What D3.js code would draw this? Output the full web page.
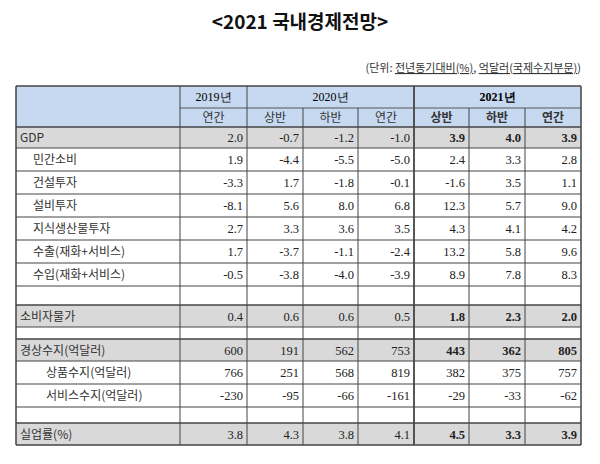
<!DOCTYPE html>
<html><head><meta charset="utf-8">
<script src="https://cdn.jsdelivr.net/npm/d3@7"></script>
<style>body{margin:0;background:#fff}</style>
</head><body>
<svg id="chart" width="600" height="464"></svg>
<script>
var years = [["", 0, 1], ["2019년", 1, 1], ["2020년", 2, 3], ["2021년", 5, 3]];
var periods = ["연간", "상반", "하반", "연간", "상반", "하반", "연간"];
var rowLabels = ["GDP", "민간소비", "건설투자", "설비투자", "지식생산물투자", "수출(재화+서비스)", "수입(재화+서비스)", "",
    "소비자물가", "", "경상수지(억달러)", "상품수지(억달러)", "서비스수지(억달러)", "", "실업률(%)"];
var rowIndent = [0, 1, 1, 1, 1, 1, 1, 0, 0, 0, 0, 2, 2, 0, 0];
var rowShaded = [1, 0, 0, 0, 0, 0, 0, 0, 1, 0, 1, 0, 0, 0, 1];
var values = [
    ["2.0", "-0.7", "-1.2", "-1.0", "3.9", "4.0", "3.9"],
    ["1.9", "-4.4", "-5.5", "-5.0", "2.4", "3.3", "2.8"],
    ["-3.3", "1.7", "-1.8", "-0.1", "-1.6", "3.5", "1.1"],
    ["-8.1", "5.6", "8.0", "6.8", "12.3", "5.7", "9.0"],
    ["2.7", "3.3", "3.6", "3.5", "4.3", "4.1", "4.2"],
    ["1.7", "-3.7", "-1.1", "-2.4", "13.2", "5.8", "9.6"],
    ["-0.5", "-3.8", "-4.0", "-3.9", "8.9", "7.8", "8.3"],
    ["", "", "", "", "", "", ""],
    ["0.4", "0.6", "0.6", "0.5", "1.8", "2.3", "2.0"],
    ["", "", "", "", "", "", ""],
    ["600", "191", "562", "753", "443", "362", "805"],
    ["766", "251", "568", "819", "382", "375", "757"],
    ["-230", "-95", "-66", "-161", "-29", "-33", "-62"],
    ["", "", "", "", "", "", ""],
    ["3.8", "4.3", "3.8", "4.1", "4.5", "3.3", "3.9"]
];

var colX = [16, 180, 247, 303, 358, 414, 469, 525, 581];
var rowH = [21, 23, 23, 23, 23, 23, 23, 19, 22, 12, 22, 23, 23, 16, 22];
var hTop = 86, h1 = 22, h2 = 19;
var svg = d3.select("#chart");
var KR = "'Noto Sans CJK KR', sans-serif", NUM = "'Liberation Serif', serif";

svg.append("text").attr("x", 300).attr("y", 29).attr("text-anchor", "middle")
    .attr("font-family", KR).attr("font-size", 19).attr("font-weight", "bold").attr("fill", "#111")
    .text("<2021 국내경제전망>");

var unit = svg.append("text").attr("x", 581).attr("y", 72).attr("text-anchor", "end")
    .attr("font-family", KR).attr("font-size", 11).attr("fill", "#333");
unit.append("tspan").text("(단위: ");
unit.append("tspan").attr("text-decoration", "underline").text("전년동기대비(%)");
unit.append("tspan").text(", ");
unit.append("tspan").attr("text-decoration", "underline").text("억달러(국제수지부문)");
unit.append("tspan").text(")");

// header
var bodyTop = hTop + h1 + h2;
svg.append("rect").attr("x", colX[0]).attr("y", hTop).attr("width", colX[8] - colX[0])
    .attr("height", h1 + h2).attr("fill", "#c6d9f0");
years.slice(1).forEach(function (y) {
    var x0 = colX[y[1]], x1 = colX[y[1] + y[2]];
    svg.append("text").attr("x", (x0 + x1) / 2).attr("y", hTop + 15).attr("text-anchor", "middle")
        .attr("font-family", NUM).attr("font-size", 12).attr("font-weight", y[1] === 5 ? "bold" : "normal")
        .text(y[0]);
    svg.append("line").attr("x1", x0).attr("x2", x1).attr("y1", hTop + h1).attr("y2", hTop + h1)
        .attr("stroke", "#555");
});
periods.forEach(function (p, i) {
    svg.append("text").attr("x", (colX[i + 1] + colX[i + 2]) / 2).attr("y", hTop + h1 + 14)
        .attr("text-anchor", "middle").attr("font-family", KR).attr("font-size", 12)
        .attr("font-weight", i >= 4 ? "bold" : "normal").attr("fill", "#333").text(p);
});

// body rows
var y = bodyTop;
rowLabels.forEach(function (lab, r) {
    var h = rowH[r];
    if (rowShaded[r]) svg.append("rect").attr("x", colX[0]).attr("y", y)
        .attr("width", colX[8] - colX[0]).attr("height", h).attr("fill", "#d9d9d9");
    svg.append("line").attr("x1", colX[0]).attr("x2", colX[8]).attr("y1", y).attr("y2", y)
        .attr("stroke", "#444").attr("stroke-width", rowShaded[r] ? 1.5 : 1);
    svg.append("text").attr("x", colX[0] + 4 + rowIndent[r] * 13).attr("y", y + h / 2 + 4.5)
        .attr("font-family", KR).attr("font-size", 12).attr("fill", "#333").text(lab);
    values[r].forEach(function (v, c) {
        svg.append("text").attr("x", colX[c + 2] - 4).attr("y", y + h / 2 + 4.5)
            .attr("text-anchor", "end").attr("font-family", NUM).attr("font-size", 12.5)
            .attr("font-weight", (c >= 4 && rowShaded[r]) ? "bold" : "normal").attr("fill", "#222").text(v);
    });
    y += h;
});
var bottom = y;

// vertical lines
colX.forEach(function (x, i) {
    var top = (i === 3 || i === 4 || i === 6 || i === 7) ? hTop + h1 : hTop;
    svg.append("line").attr("x1", x).attr("x2", x).attr("y1", top).attr("y2", bottom)
        .attr("stroke", "#444").attr("stroke-width", (i === 5) ? 1.8 : (i === 0 || i === 8) ? 1.5 : 1);
});
svg.append("line").attr("x1", colX[0]).attr("x2", colX[8]).attr("y1", hTop).attr("y2", hTop)
    .attr("stroke", "#444").attr("stroke-width", 1.5);
svg.append("line").attr("x1", colX[0]).attr("x2", colX[8]).attr("y1", bottom).attr("y2", bottom)
    .attr("stroke", "#444").attr("stroke-width", 1.5);
</script>
</body></html>
